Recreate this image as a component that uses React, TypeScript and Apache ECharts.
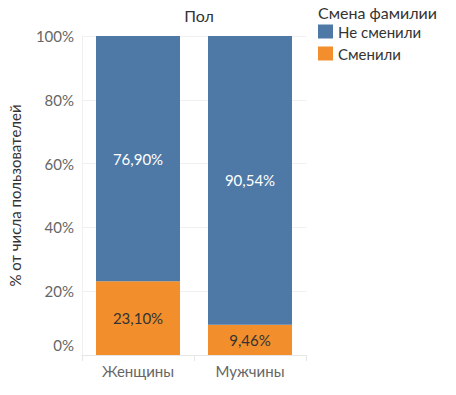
import React, { useEffect, useRef } from "react";
import * as echarts from "echarts";

const categories = ["Женщины", "Мужчины"];
const changed = [23.1, 9.46];
const notChanged = [76.9, 90.54];
const yTicks = [0, 20, 40, 60, 80, 100];

const FONT = "Lato";

export default function App() {
  const ref = useRef<HTMLDivElement>(null);
  useEffect(() => {
    if (!ref.current) return;
    const chart = echarts.init(ref.current, null, { renderer: "svg" });
    const fmt = (v: number) => v.toFixed(2).replace(".", ",") + "%";
    chart.setOption({
      animation: false,
      textStyle: { fontFamily: FONT },
      title: {
        text: "Пол",
        left: 194,
        top: 2,
        textAlign: "center",
        textStyle: { fontFamily: FONT, fontSize: 16, fontWeight: "normal", color: "#333" },
      },
      graphic: [
        {
          type: "text",
          left: 318,
          top: 4,
          style: { text: "Смена фамилии", font: `16px ${FONT}`, fill: "#333" },
        },
      ],
      legend: {
        orient: "vertical",
        left: 313,
        top: 19,
        itemWidth: 15,
        itemHeight: 14,
        itemGap: 7,
        icon: "rect",
        data: ["Не сменили", "Сменили"],
        textStyle: { fontFamily: FONT, fontSize: 15, color: "#333", padding: [0, 0, 0, 0] },
      },
      grid: { left: 82, right: 150, top: 36, bottom: 40 },
      xAxis: {
        type: "category",
        data: categories,
        axisLine: { show: true, lineStyle: { color: "#e6e6e6" } },
        axisTick: { show: true, length: 6, lineStyle: { color: "#e6e6e6" } },
        axisLabel: { fontFamily: FONT, fontSize: 15, color: "#666", margin: 8 },
      },
      yAxis: {
        type: "value",
        min: 0,
        max: 100,
        interval: 20,
        name: "% от числа пользователей",
        nameLocation: "middle",
        nameGap: 60,
        nameTextStyle: { fontFamily: FONT, fontSize: 15, color: "#333" },
        axisLine: { show: true, lineStyle: { color: "#f0f0f0" } },
        axisTick: { show: false },
        splitLine: { show: true, lineStyle: { color: "#f0f0f0" } },
        axisLabel: {
          fontFamily: FONT,
          fontSize: 15,
          color: "#666",
          margin: 8,
          formatter: (v: number) =>
            yTicks.includes(v) ? (v === 0 ? "{z|0%}" : v + "%") : "",
          rich: {
            z: { fontFamily: FONT, fontSize: 15, color: "#666", padding: [0, 0, 20, 0] },
          },
        },
      },
      series: [
        {
          name: "Сменили",
          type: "bar",
          stack: "total",
          barWidth: 84,
          data: changed,
          itemStyle: { color: "#f28e2b" },
          label: {
            show: true,
            position: "inside",
            fontFamily: FONT,
            fontSize: 15,
            color: "#333",
            formatter: (p: any) => fmt(p.value),
          },
        },
        {
          name: "Не сменили",
          type: "bar",
          stack: "total",
          barWidth: 84,
          data: notChanged,
          itemStyle: { color: "#4e79a7" },
          label: {
            show: true,
            position: "inside",
            fontFamily: FONT,
            fontSize: 15,
            color: "#fff",
            formatter: (p: any) => fmt(p.value),
          },
        },
      ],
    });
    return () => chart.dispose();
  }, []);
  return <div ref={ref} style={{ width: 456, height: 395, position: "absolute", left: 0, top: 0 }} />;
}
